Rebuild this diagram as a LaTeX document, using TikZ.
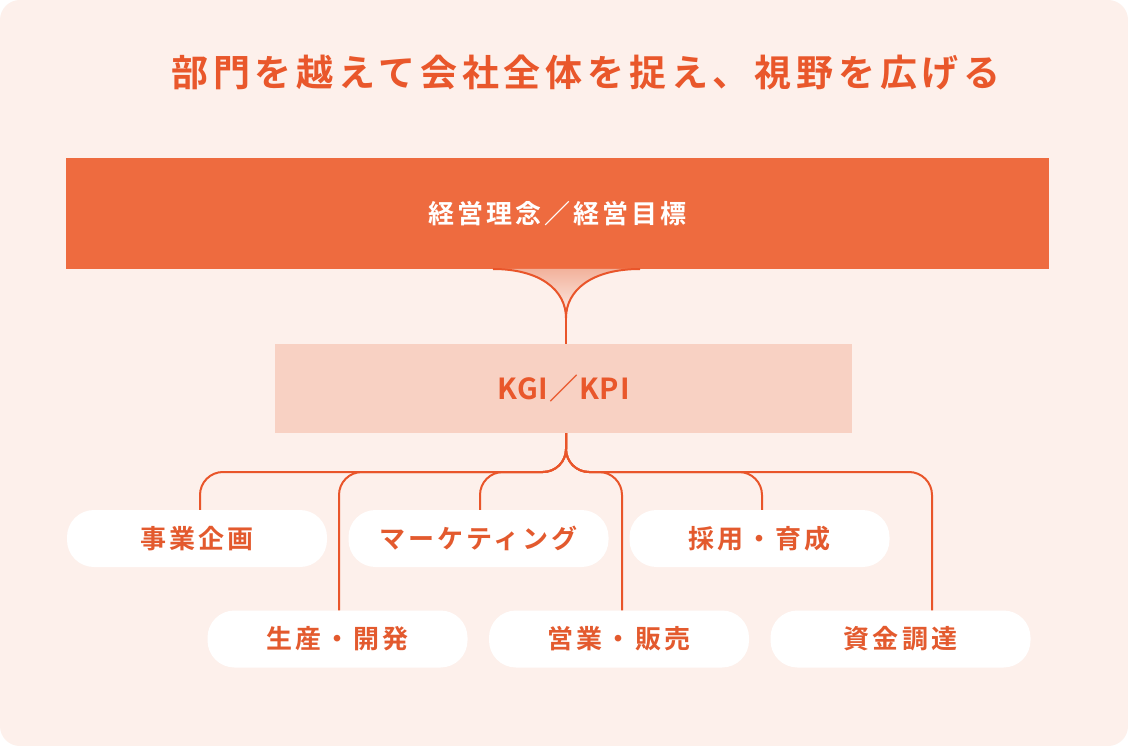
\documentclass[tikz,border=0pt]{standalone}
\usepackage{fontspec}
\newfontfamily\fTitle{Noto Sans CJK JP Bold}[LetterSpace=13]
\newfontfamily\fBox{Noto Sans CJK JP Bold}[LetterSpace=12]
\newfontfamily\fKgi{Noto Sans CJK JP Bold}[LetterSpace=3]
\definecolor{bg}{HTML}{FDF0EB}
\definecolor{accent}{HTML}{E9572B}
\definecolor{linec}{HTML}{E9552A}
\definecolor{barc}{HTML}{EE6B3F}
\definecolor{kgic}{HTML}{F8D1C3}
\definecolor{funnelc}{HTML}{F2B29C}
\definecolor{pilltext}{HTML}{E35A2E}
\begin{document}
\begin{tikzpicture}[x=1pt,y=-1pt,
  pill/.style={fill=white, rounded corners=27pt, minimum width=260pt, minimum height=57pt, inner sep=0pt, text=pilltext, font=\fBox\fontsize{26pt}{30pt}\selectfont},
  link/.style={draw=linec, line width=2pt, rounded corners=23pt},
  titletext/.style={inner sep=0pt, text=accent, font=\fTitle\fontsize{37pt}{42pt}\selectfont}]
\useasboundingbox (0,0) rectangle (1128,746);
\fill[white] (0,0) rectangle (1128,746);
\fill[bg, rounded corners=20pt] (0,0) rectangle (1128,746);

\node[titletext] (title) at (586,72) {部門を越えて会社全体を捉え、視野を広げる};

\node[fill=barc, minimum width=983pt, minimum height=111pt, inner sep=0pt, text=white, font=\fBox\fontsize{26pt}{30pt}\selectfont] (bar) at (557.5,213.5) {経営理念／経営目標};

\node[fill=kgic, minimum width=577pt, minimum height=89pt, inner sep=0pt, text=accent, font=\fKgi\fontsize{29pt}{32pt}\selectfont] (kgi) at (563.5,388.5) {KGI／KPI};

% funnel
\coordinate (tip) at (566,318);
\coordinate (fl) at (493,269);
\coordinate (fr) at (640,269);
\shade[top color=funnelc, bottom color=bg] (fl) .. controls (540,269) and (566,290) .. (tip) .. controls (566,290) and (592,269) .. (fr) -- cycle;
\draw[linec, line width=2pt] (fl) .. controls (540,269) and (566,290) .. (tip) .. controls (566,290) and (592,269) .. (fr);
\draw[linec, line width=2pt] (tip) -- (tip |- kgi.north);

% pills
\node[pill] (b1) at (197,538.5) {事業企画};
\node[pill] (b2) at (478.5,538.5) {マーケティング};
\node[pill] (b3) at (759.5,538.5) {採用・育成};
\node[pill] (b4) at (337.5,639) {生産・開発};
\node[pill] (b5) at (619,639) {営業・販売};
\node[pill] (b6) at (900.5,639) {資金調達};

% tree
\coordinate (root) at (kgi.south -| tip);
\coordinate (hub) at (566,472);
\draw[link] (root) -- (hub) -| ([xshift=3pt]b1.north);
\draw[link] (root) -- (hub) -| ([xshift=1.5pt]b4.north);
\draw[link] (root) -- (hub) -| ([xshift=1.5pt]b2.north);
\draw[link] (root) -- (hub) -| ([xshift=3pt]b5.north);
\draw[link] (root) -- (hub) -| ([xshift=2.5pt]b3.north);
\draw[link] (root) -- (hub) -| ([xshift=31.5pt]b6.north);
\end{tikzpicture}
\end{document}
